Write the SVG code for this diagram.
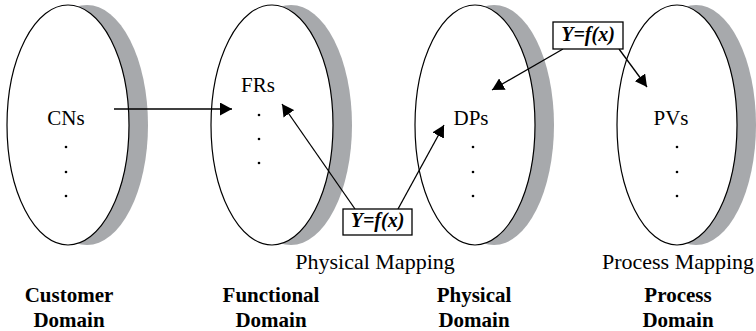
<svg xmlns="http://www.w3.org/2000/svg" width="756" height="331" viewBox="0 0 756 331">
<style>
.shadow{fill:#a7a9ac;stroke:none}
.disk{fill:#fff;stroke:#000;stroke-width:1.2}
text{font-family:"Liberation Serif","Times New Roman",serif;fill:#000;text-anchor:middle}
.t{font-size:21px}
.m{font-size:22px}
.b{font-weight:bold}
.f{font-size:20px;font-weight:bold;font-style:italic}
.box{fill:#fff;stroke:#000;stroke-width:1.3}
.ln{stroke:#000;stroke-width:1.3;fill:none;marker-end:url(#ah)}
.dot{fill:#000}
</style>
<defs>
<marker id="ah" markerUnits="userSpaceOnUse" viewBox="0 0 12 13" refX="12" refY="6.5" markerWidth="12" markerHeight="13" orient="auto">
<path d="M0,0 L12,6.5 L0,13 z" fill="#000"/>
</marker>
</defs>

<g id="customer-domain">
<ellipse class="shadow" cx="87" cy="125" rx="61" ry="120"/>
<ellipse class="disk" cx="68" cy="125" rx="61" ry="120"/>
<text class="t" x="66" y="125">CNs</text>
<circle class="dot" cx="66" cy="147" r="1.3"/>
<circle class="dot" cx="66" cy="172" r="1.3"/>
<circle class="dot" cx="66" cy="196" r="1.3"/>
<text class="t b" x="69" y="302">Customer</text>
<text class="t b" x="69" y="327">Domain</text>
</g>

<g id="functional-domain">
<ellipse class="shadow" cx="291" cy="125" rx="61" ry="120"/>
<ellipse class="disk" cx="272" cy="125" rx="61" ry="120"/>
<text class="t" x="258" y="92">FRs</text>
<circle class="dot" cx="259" cy="115" r="1.3"/>
<circle class="dot" cx="259" cy="139" r="1.3"/>
<circle class="dot" cx="259" cy="163" r="1.3"/>
<text class="t b" x="271" y="302">Functional</text>
<text class="t b" x="271" y="327">Domain</text>
</g>

<g id="physical-domain">
<ellipse class="shadow" cx="494" cy="125" rx="60" ry="120"/>
<ellipse class="disk" cx="475" cy="125" rx="60" ry="120"/>
<text class="t" x="471" y="125">DPs</text>
<circle class="dot" cx="473" cy="147" r="1.3"/>
<circle class="dot" cx="473" cy="172" r="1.3"/>
<circle class="dot" cx="473" cy="196" r="1.3"/>
<text class="t b" x="474" y="302">Physical</text>
<text class="t b" x="474" y="327">Domain</text>
</g>

<g id="process-domain">
<ellipse class="shadow" cx="696" cy="125" rx="60" ry="120"/>
<ellipse class="disk" cx="677" cy="125" rx="60" ry="120"/>
<text class="t" x="671" y="125">PVs</text>
<circle class="dot" cx="677" cy="147" r="1.3"/>
<circle class="dot" cx="677" cy="172" r="1.3"/>
<circle class="dot" cx="677" cy="196" r="1.3"/>
<text class="t b" x="678" y="302">Process</text>
<text class="t b" x="678" y="327">Domain</text>
</g>

<g id="connectors">
<line class="ln" x1="114" y1="109" x2="232" y2="109"/>
<line class="ln" x1="355" y1="209" x2="282" y2="104"/>
<line class="ln" x1="398" y1="209" x2="444" y2="125"/>
<line class="ln" x1="563" y1="49" x2="492" y2="90"/>
<line class="ln" x1="619" y1="49" x2="647" y2="87"/>
</g>

<g id="physical-mapping">
<rect class="box" x="343" y="209" width="69" height="26"/>
<text class="f" x="377.5" y="227">Y=f(x)</text>
<text class="m" x="375" y="269">Physical Mapping</text>
</g>

<g id="process-mapping">
<rect class="box" x="553" y="22" width="70" height="27"/>
<text class="f" x="588" y="41">Y=f(x)</text>
<text class="m" x="678" y="269">Process Mapping</text>
</g>
</svg>
